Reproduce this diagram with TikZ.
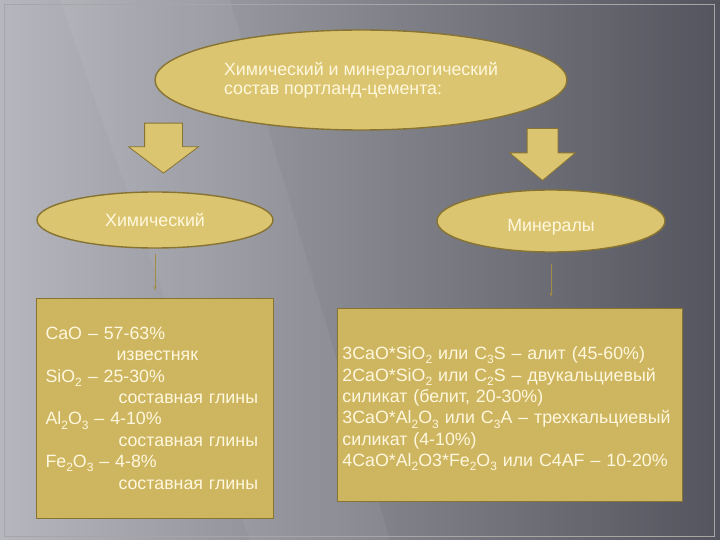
\documentclass[tikz,border=0pt]{standalone}
\usepackage{fontspec}
\setmainfont{Liberation Sans}
\usetikzlibrary{
    positioning,
    arrows.meta,
    shapes.geometric,
    shapes.arrows
}

\definecolor{slateLight}{RGB}{182,182,190}
\definecolor{slateMid}{RGB}{116,116,126}
\definecolor{slateDark}{RGB}{84,84,94}
\definecolor{ovalGold}{RGB}{220,197,112}
\definecolor{boxGold}{RGB}{206,181,96}
\definecolor{rimGold}{RGB}{135,116,50}
\definecolor{creamText}{RGB}{255,248,222}

\newcommand{\lo}[1]{\raisebox{-0.45ex}{\fontsize{12}{12}\selectfont #1}}

\begin{document}
\begin{tikzpicture}[
    x=1pt, y=-1pt,
    oval/.style={
        ellipse,
        draw=rimGold,
        line width=1.4pt,
        fill=ovalGold,
        inner sep=0pt,
        text=creamText,
        font=\fontsize{17.8}{19.5}\selectfont,
    },
    infobox/.style={
        rectangle,
        draw=rimGold,
        line width=0.8pt,
        fill=boxGold,
        inner ysep=0pt,
        text=creamText,
        align=left,
        font=\fontsize{17.8}{21.4}\selectfont,
    },
    bigarrow/.style={
        single arrow,
        rotate=-90,
        draw=rimGold,
        line width=0.8pt,
        fill=ovalGold,
        inner xsep=0pt,
    },
    thinarrow/.style={
        draw=rimGold!70!ovalGold,
        line width=0.8pt,
        -{Stealth[length=5pt,width=3pt]},
    },
]
    % background, light streak and frame
    \shade[left color=slateLight, middle color=slateMid, right color=slateDark] (0,0) rectangle (720,540);
    \fill[white, opacity=0.05] (60,0) -- (230,0) -- (390,540) -- (250,540) -- cycle;
    \draw[gray!70!white, line width=0.6pt] (4,4) rectangle (714,536);

    \node[oval, minimum width=412pt, minimum height=100pt, align=left] (head) at (361,80)
        {Химический и минералогический\\состав портланд-цемента:};

    \node[bigarrow, minimum height=50pt, inner ysep=18.5pt,
          single arrow head extend=16pt, single arrow tip angle=106] (arrL) at (163.5,141) {};
    \node[bigarrow, minimum height=52pt, inner ysep=15pt,
          single arrow head extend=17.5pt, single arrow tip angle=100] (arrR) at (542.5,148) {};

    \node[oval, minimum width=236pt, minimum height=56pt] (chem) at (155,220) {Химический};
    \node[oval, minimum width=228pt, minimum height=62pt] (mineral) at (551,221)
        {\raisebox{-10.4pt}[0pt][0pt]{Минералы}};

    \node[infobox, minimum width=237pt, minimum height=220pt, text width=219pt,
          inner xsep=9pt, below=49pt of chem] (chembox) {%
        CaO – 57-63\%\\
        \hspace*{71pt}известняк\\
        SiO\lo{2} – 25-30\%\\
        \hspace*{73pt}составная глины\\
        Al\lo{2}O\lo{3} – 4-10\%\\
        \hspace*{73pt}составная глины\\
        Fe\lo{2}O\lo{3} – 4-8\%\\
        \hspace*{73pt}составная глины};

    \node[infobox, minimum width=345pt, minimum height=193pt, text width=335pt,
          inner xsep=5pt, anchor=north west] (minbox) at (337,308) {%
        \rule{0pt}{21pt}3CaO*SiO\lo{2} или C\lo{3}S – алит (45-60\%)\\
        2CaO*SiO\lo{2} или C\lo{2}S – двукальциевый\\
        силикат (белит, 20-30\%)\\
        3CaO*Al\lo{2}O\lo{3} или C\lo{3}A – трехкальциевый\\
        силикат (4-10\%)\\
        4CaO*Al\lo{2}O3*Fe\lo{2}O\lo{3} или C4AF – 10-20\%};

    \draw[thinarrow, shorten <=5pt, shorten >=7pt] (chem.south) -- (chem.south |- chembox.north);
    \draw[thinarrow, shorten <=11pt, shorten >=11pt] (mineral.south) -- (mineral.south |- minbox.north);

\end{tikzpicture}
\end{document}
